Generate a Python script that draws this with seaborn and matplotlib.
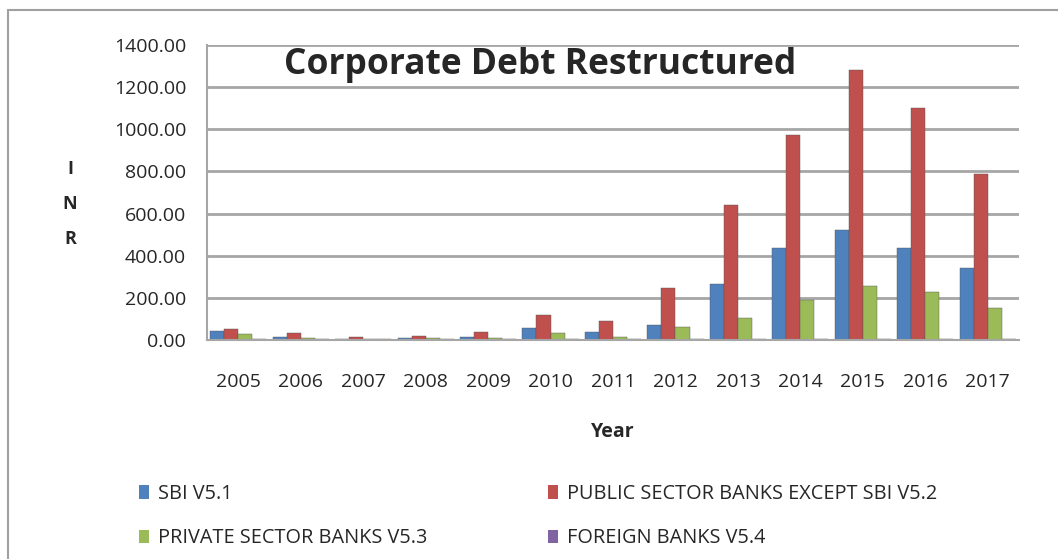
import numpy as np
import pandas as pd
import matplotlib
matplotlib.use("Agg")
import matplotlib.pyplot as plt
import seaborn as sns
from matplotlib.patches import Rectangle, Patch

years = ["2005", "2006", "2007", "2008", "2009", "2010", "2011",
         "2012", "2013", "2014", "2015", "2016", "2017"]
sbi = [45, 15, 5, 10, 12, 55, 40, 70, 265, 435, 520, 435, 340]
psb_ex_sbi = [50, 35, 15, 20, 40, 120, 90, 245, 640, 975, 1280, 1100, 790]
private_banks = [30, 10, 5, 8, 10, 35, 15, 60, 105, 190, 255, 230, 150]
foreign_banks = [4, 3, 3, 3, 3, 4, 4, 4, 5, 5, 5, 5, 5]
series_names = ["SBI V5.1", "PUBLIC SECTOR BANKS EXCEPT SBI V5.2",
                "PRIVATE SECTOR BANKS V5.3", "FOREIGN BANKS V5.4"]
colors = ["#4F81BD", "#C0504D", "#9BBB59", "#8064A2"]

df = pd.DataFrame({"Year": years * 4,
                   "Value": sbi + psb_ex_sbi + private_banks + foreign_banks,
                   "Series": sum([[s] * len(years) for s in series_names], [])})

sns.set_style("white")
plt.rcParams['font.family'] = ['Open Sans', 'DejaVu Sans']

fig = plt.figure(figsize=(10.58, 5.59), dpi=100)
ax = fig.add_axes([207 / 1058, 1 - 340 / 559, (1019 - 207) / 1058, (340 - 45) / 559])

sns.barplot(data=df, x="Year", y="Value", hue="Series", palette=colors,
            width=0.9, ax=ax, legend=False, saturation=1)
for p in ax.patches:
    p.set_edgecolor("#555555")
    p.set_linewidth(0.3)

ax.set_ylim(0, 1400)
ax.set_xlim(-0.5, len(years) - 0.5)
ax.set_yticks(np.arange(0, 1401, 200))
ax.set_yticklabels([f"{v:.2f}" for v in np.arange(0, 1401, 200)], fontsize=14)
ax.tick_params(axis="x", labelsize=14, pad=18, length=6, color="#888888")
ax.tick_params(axis="y", length=5, color="#888888", pad=10)
ax.yaxis.grid(True, color="#a6a6a6", linewidth=2)
ax.set_axisbelow(True)
for side in ["top", "right"]:
    ax.spines[side].set_visible(False)
for side in ["left", "bottom"]:
    ax.spines[side].set_color("#a6a6a6")
    ax.spines[side].set_linewidth(1.5)

ax.set_xlabel("Year", fontsize=14, fontweight="bold", labelpad=22)
ax.set_ylabel("")
fig.text(70 / 1058, 1 - 204 / 559, "I\nN\nR", ha="center", va="center",
         fontsize=13, fontweight="bold", linespacing=2.2)

fig.text(540 / 1058, 1 - 65 / 559, "Corporate Debt Restructured", ha="center",
         va="center", fontsize=25.5, fontweight="bold")

fig.patches.append(Rectangle((8 / 1058, -0.1), 1.2, 1 - 10 / 559 + 0.1,
                             transform=fig.transFigure, fill=False,
                             edgecolor="#a0a0a0", linewidth=1.5))

handles = [Patch(facecolor=c, edgecolor="none") for c in colors]
order = [0, 2, 1, 3]
fig.legend([handles[i] for i in order], [series_names[i] for i in order],
           ncol=2, loc="center left", bbox_to_anchor=(121 / 1058, 1 - 516 / 559),
           frameon=False, fontsize=14.3, handlelength=0.5, handleheight=0.7,
           handletextpad=0.45, columnspacing=6.1, labelspacing=1.25)

fig.savefig("out.png", dpi=100)
